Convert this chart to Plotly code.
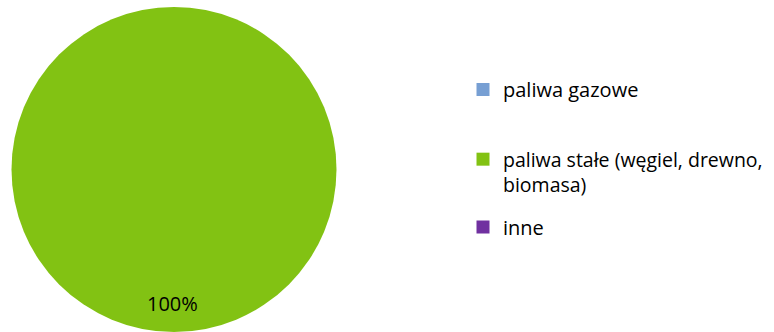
import plotly.graph_objects as go

# Heating fuel shares
categories = ["paliwa gazowe", "paliwa stałe (węgiel, drewno,<br>biomasa)", "inne"]
shares = [0, 100, 0]
colors = ["#779FD3", "#82C213", "#7030A0"]

W, H = 774, 332
FONT = "Open Sans"

# Each category gets its own legend box so the entries can be spaced freely
legend_ids = ["legend", "legend2", "legend3"]
legend_tops = [70, 140, 207.5]
legend_sizes = [20, 19.5, 20]

fig = go.Figure(
    go.Pie(
        labels=categories,
        values=shares,
        marker=dict(colors=colors, line=dict(width=0)),
        textinfo="none",
        sort=False,
        direction="clockwise",
        hoverinfo="label+percent",
        domain=dict(x=[11 / W, 337 / W], y=[0, 1 - 7 / H]),
        showlegend=False,
    )
)

# Legend keys: one square swatch per category, each in its own legend box
for name, color, lid in zip(categories, colors, legend_ids):
    fig.add_trace(
        go.Scatter(
            x=[None], y=[None],
            mode="markers",
            name=name,
            marker=dict(symbol="square", size=13, color=color, line=dict(width=0)),
            legend=lid,
            hoverinfo="skip",
        )
    )

# Percentage label placed near the bottom of the full slice
total = sum(shares)
main = shares.index(max(shares))
pct_text = f"{shares[main] / total * 100:.0f}%"
fig.add_annotation(
    text=pct_text,
    x=172 / W, y=1 - 303 / H,
    xref="paper", yref="paper",
    xanchor="center", yanchor="middle",
    showarrow=False,
    font=dict(family=FONT, size=20, color="#000000"),
)

legend_style = {}
for lid, top, size in zip(legend_ids, legend_tops, legend_sizes):
    legend_style[lid] = dict(
        x=463 / W, y=1 - top / H,
        xanchor="left", yanchor="top",
        font=dict(family=FONT, size=size, color="#000000"),
        valign="top",
        bgcolor="rgba(0,0,0,0)",
    )

fig.update_layout(
    width=W, height=H,
    margin=dict(l=0, r=0, t=0, b=0),
    paper_bgcolor="white",
    plot_bgcolor="white",
    xaxis=dict(visible=False),
    yaxis=dict(visible=False),
    **legend_style,
)

fig.write_html("out.html")
